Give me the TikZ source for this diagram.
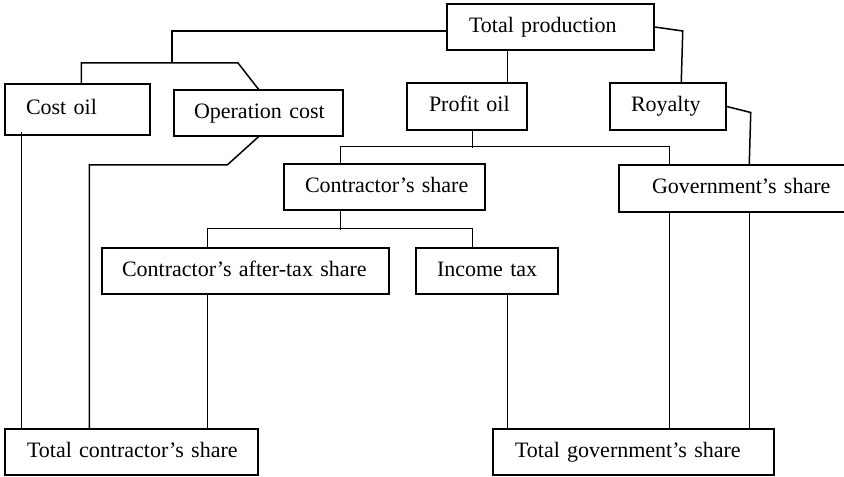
\documentclass[tikz,border=0pt]{standalone}
\usepackage{fontspec}
\setmainfont{Liberation Serif}
\usetikzlibrary{calc}
\tikzset{
  sharebox/.style n args={3}{draw, line width=0.75pt, align=left,
    text width={(#1-2*#2)*0.5pt}, inner xsep={#2*0.5pt}, inner ysep=0pt,
    minimum height={#3*0.5pt}, font=\fontsize{11}{13}\selectfont,
    execute at begin node=\hbox\bgroup\strut, execute at end node=\egroup},
  link/.style={line width=0.75pt}
}
\begin{document}
\begin{tikzpicture}[x=0.5pt, y=-0.5pt]
  \useasboundingbox (0,0) rectangle (844,476);
  \clip (0,0) rectangle (844,476);
  % boxes
  \node[sharebox={207}{22}{46}] (prod) at (550.5,27) {Total production};
  \node[sharebox={145}{21}{51}] (costoil) at (77.5,109.5) {Cost oil};
  \node[sharebox={169}{20}{46}] (opcost) at (258.5,113) {Operation cost};
  \node[sharebox={120}{22}{47}] (profit) at (467,106.5) {Profit oil};
  \node[sharebox={116}{21}{47}] (royalty) at (668,106.5) {Royalty};
  \node[sharebox={201}{21}{46}] (cshare) at (384.5,187) {Contractor's share};
  \node[sharebox={240}{33}{47}] (gshare) at (739,188.5) {Government's share};
  \node[sharebox={287}{20}{46}] (aftertax) at (245.5,271) {Contractor's after-tax share};
  \node[sharebox={142}{21}{46}] (incometax) at (487,271) {Income tax};
  \node[sharebox={253}{22}{46}] (tcs) at (131.5,452) {Total contractor's share};
  \node[sharebox={281}{22}{46}] (tgs) at (633.5,452) {Total government's share};
  % connectors
  \draw[link] ($(prod.west)+(0,4)$) -| (172,63);
  \draw[link] ($(costoil.north west)+(77,0)$) |- (238,63) -- (opcost.north);
  \draw[link] ($(prod.south west)+(61,0)$) -- ($(profit.north west)+(101,0)$);
  \draw[link] (prod.east) -- ++(28,4) -- ($(royalty.north west)+(72,0)$);
  \draw[link] (royalty.east) -- ++(24,6) -- ($(gshare.north west)+(131,0)$);
  \draw[link] ($(profit.south west)+(66,0)$) -- ++(0,17);
  \draw[link] ($(cshare.north west)+(57,0)$) -- ++(0,-17) -| ($(gshare.north west)+(51,0)$);
  \draw[link] ($(cshare.south west)+(57,0)$) -- ++(0,19);
  \draw[link] ($(aftertax.north west)+(106,0)$) -- ++(0,-19) -| ($(incometax.north west)+(57,0)$);
  \draw[link] (opcost.south) -- ++(-31,28) -| ($(tcs.north west)+(85,0)$);
  \draw[link] ($(costoil.south west)+(17,-4)$) -- ($(tcs.north west)+(17,0)$);
  \draw[link] ($(aftertax.south west)+(106,0)$) -- ($(tcs.north west)+(203,0)$);
  \draw[link] ($(incometax.south west)+(92,0)$) -- ($(tgs.north west)+(15,0)$);
  \draw[link] ($(gshare.south west)+(51,0)$) -- ($(tgs.north west)+(177,0)$);
  \draw[link] ($(gshare.south west)+(131,0)$) -- ($(tgs.north west)+(257,0)$);
\end{tikzpicture}
\end{document}
